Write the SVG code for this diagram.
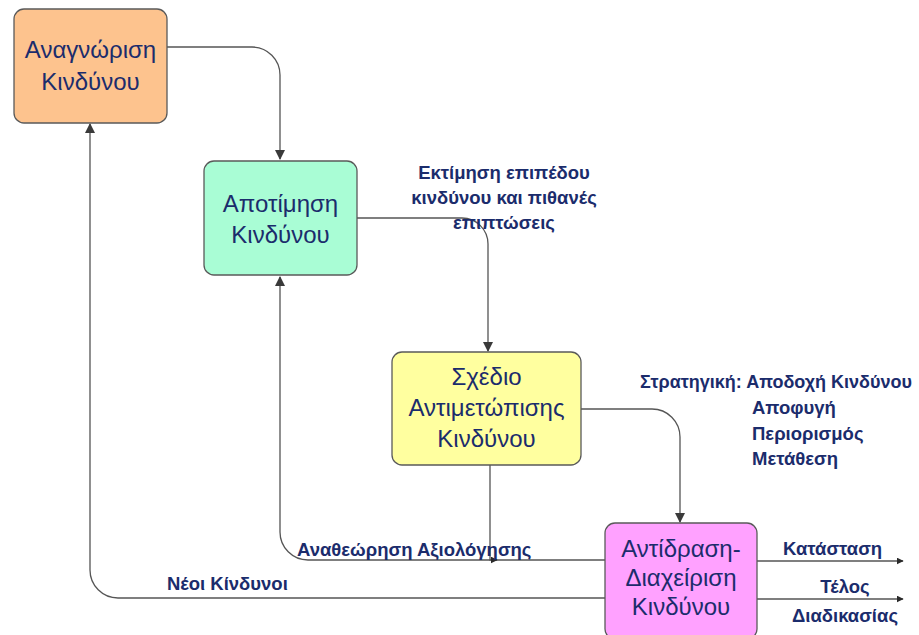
<svg xmlns="http://www.w3.org/2000/svg" width="919" height="635" viewBox="0 0 919 635">
  <style>
    .box { stroke: #5a5a5a; stroke-width: 1.3; }
    .ntext { font-family: "Liberation Sans", Arial, sans-serif; font-size: 24px; fill: #1b2c6c; text-anchor: middle; }
    .label { font-family: "Liberation Sans", Arial, sans-serif; font-size: 18.5px; font-weight: bold; fill: #1b2c6c; }
    .conn { fill: none; stroke: #555; stroke-width: 1.3; }
  </style>
  <defs>
    <marker id="arrow" viewBox="0 0 10 10" refX="9" refY="5" markerWidth="10" markerHeight="10" markerUnits="userSpaceOnUse" orient="auto">
      <path d="M0,0 L10,5 L0,10 z" fill="#3a3a3a"/>
    </marker>
    <marker id="arrowSmall" viewBox="0 0 10 10" refX="9" refY="5" markerWidth="7" markerHeight="7" markerUnits="userSpaceOnUse" orient="auto">
      <path d="M0,0 L10,5 L0,10 z" fill="#2a2a2a"/>
    </marker>
  </defs>

  <rect width="919" height="635" fill="#ffffff"/>

  <!-- connectors -->
  <g id="connectors">
    <path class="conn" d="M167,47 H252 A28,28 0 0 1 280,75 V159" marker-end="url(#arrow)"/>
    <path class="conn" d="M357,218 H462 A26,26 0 0 1 488,244 V351" marker-end="url(#arrow)"/>
    <path class="conn" d="M581,409 H652 A28,28 0 0 1 680,437 V522" marker-end="url(#arrow)"/>
    <path class="conn" d="M605,560 H308 A28,28 0 0 1 280,532 V277" marker-end="url(#arrow)"/>
    <path class="conn" d="M490,465 V560 H497" marker-end="url(#arrowSmall)"/>
    <path class="conn" d="M605,598 H118 A28,28 0 0 1 90,570 V124" marker-end="url(#arrow)"/>
    <path class="conn" d="M757,561 H903" marker-end="url(#arrowSmall)"/>
    <path class="conn" d="M757,599 H903" marker-end="url(#arrowSmall)"/>
  </g>

  <!-- connector labels -->
  <g id="labels">
    <text class="label" text-anchor="middle" x="504" y="179">Εκτίμηση επιπέδου</text>
    <text class="label" text-anchor="middle" x="504" y="204">κινδύνου και πιθανές</text>
    <text class="label" text-anchor="middle" x="504" y="229">επιπτώσεις</text>
    <text class="label" x="640" y="388" style="font-size:18px">Στρατηγική: Αποδοχή Κινδύνου</text>
    <text class="label" x="752" y="414">Αποφυγή</text>
    <text class="label" x="752" y="440">Περιορισμός</text>
    <text class="label" x="752" y="465">Μετάθεση</text>
    <text class="label" x="297" y="556">Αναθεώρηση Αξιολόγησης</text>
    <text class="label" x="167" y="590">Νέοι Κίνδυνοι</text>
    <text class="label" x="783" y="555">Κατάσταση</text>
    <text class="label" text-anchor="middle" x="845" y="593">Τέλος</text>
    <text class="label" text-anchor="middle" x="845" y="622">Διαδικασίας</text>
  </g>

  <!-- nodes -->
  <g id="node-identify">
    <rect class="box" x="14" y="9" width="153" height="114" rx="10" fill="#fdc38e"/>
    <text class="ntext" x="90.5" y="58">Αναγνώριση</text>
    <text class="ntext" x="90.5" y="90">Κινδύνου</text>
  </g>
  <g id="node-assess">
    <rect class="box" x="204" y="161" width="153" height="114" rx="10" fill="#a9fdd5"/>
    <text class="ntext" x="280.5" y="212">Αποτίμηση</text>
    <text class="ntext" x="280.5" y="243">Κινδύνου</text>
  </g>
  <g id="node-plan">
    <rect class="box" x="392" y="352" width="189" height="113" rx="10" fill="#ffff9f"/>
    <text class="ntext" x="486.5" y="385">Σχέδιο</text>
    <text class="ntext" x="486.5" y="416">Αντιμετώπισης</text>
    <text class="ntext" x="486.5" y="447">Κινδύνου</text>
  </g>
  <g id="node-respond">
    <rect class="box" x="605" y="523" width="152" height="116" rx="10" fill="#ffa1ff"/>
    <text class="ntext" x="681" y="557">Αντίδραση-</text>
    <text class="ntext" x="681" y="586">Διαχείριση</text>
    <text class="ntext" x="681" y="615">Κινδύνου</text>
  </g>
</svg>
